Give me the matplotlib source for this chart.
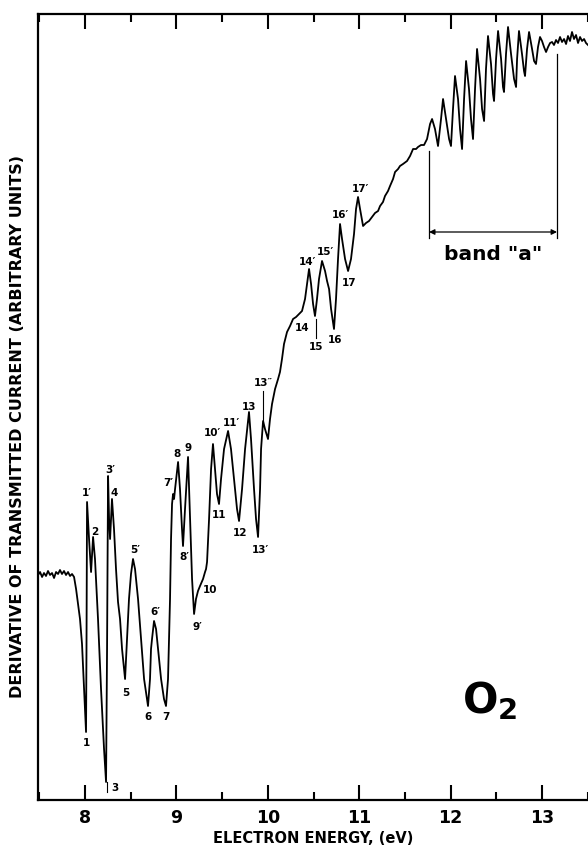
import matplotlib
matplotlib.use('Agg')
import matplotlib.pyplot as plt
from matplotlib.ticker import MultipleLocator

energy = [7.486, 7.508, 7.530, 7.551, 7.573, 7.595, 7.617, 7.639, 7.661, 7.683,
          7.705, 7.726, 7.748, 7.770, 7.792, 7.814, 7.836, 7.858, 7.880, 7.902,
          7.923, 7.945, 7.967, 7.989, 8.011, 8.016, 8.022, 8.044, 8.066, 8.088,
          8.109, 8.142, 8.175, 8.208, 8.230, 8.241, 8.252, 8.263, 8.274, 8.295,
          8.317, 8.339, 8.361, 8.383, 8.405, 8.438, 8.460, 8.481, 8.503, 8.525,
          8.547, 8.580, 8.613, 8.646, 8.689, 8.711, 8.722, 8.733, 8.755, 8.777,
          8.799, 8.832, 8.864, 8.886, 8.908, 8.930, 8.941, 8.952, 8.963, 8.974,
          8.985, 9.018, 9.039, 9.061, 9.072, 9.094, 9.127, 9.149, 9.171, 9.193,
          9.214, 9.236, 9.258, 9.291, 9.313, 9.324, 9.335, 9.357, 9.379, 9.400,
          9.422, 9.444, 9.466, 9.488, 9.521, 9.565, 9.597, 9.630, 9.663, 9.685,
          9.718, 9.751, 9.794, 9.816, 9.849, 9.871, 9.893, 9.915, 9.926, 9.948,
          9.969, 10.002, 10.024, 10.046, 10.079, 10.112, 10.133, 10.155, 10.177, 10.210,
          10.243, 10.276, 10.309, 10.341, 10.374, 10.407, 10.429, 10.451, 10.473, 10.495,
          10.516, 10.538, 10.560, 10.593, 10.626, 10.648, 10.670, 10.692, 10.724, 10.746,
          10.768, 10.790, 10.812, 10.845, 10.878, 10.910, 10.943, 10.965, 10.987, 11.009,
          11.042, 11.074, 11.107, 11.140, 11.173, 11.206, 11.228, 11.260, 11.282, 11.315,
          11.337, 11.370, 11.392, 11.425, 11.446, 11.479, 11.523, 11.556, 11.589, 11.622,
          11.643, 11.676, 11.709, 11.742, 11.775, 11.797, 11.829, 11.862, 11.895, 11.917,
          11.950, 11.983, 12.004, 12.026, 12.048, 12.081, 12.103, 12.125, 12.147, 12.169,
          12.201, 12.223, 12.245, 12.267, 12.289, 12.322, 12.344, 12.366, 12.387, 12.409,
          12.442, 12.464, 12.475, 12.497, 12.519, 12.552, 12.573, 12.584, 12.606, 12.628,
          12.661, 12.694, 12.716, 12.727, 12.748, 12.781, 12.803, 12.814, 12.836, 12.858,
          12.891, 12.913, 12.934, 12.956, 12.978, 13.000, 13.022, 13.044, 13.066, 13.088,
          13.110, 13.131, 13.153, 13.175, 13.197, 13.219, 13.241, 13.263, 13.284, 13.306,
          13.328, 13.350, 13.372, 13.394, 13.416, 13.438, 13.460, 13.481, 13.503]

signal = [22.5, 22.8, 22.3, 22.7, 22.4, 22.9, 22.5, 22.7, 22.2, 22.8,
          22.6, 23.0, 22.6, 22.9, 22.5, 22.8, 22.4, 22.6, 22.3, 21.1,
          19.6, 18.1, 15.6, 11.1, 6.8, 15.1, 29.8, 26.1, 22.8, 26.3,
          24.1, 18.1, 11.1, 5.1, 1.8, 15.1, 32.4, 28.1, 26.1, 30.1,
          27.1, 23.1, 19.8, 18.1, 15.1, 12.1, 16.1, 20.1, 22.6, 24.1,
          23.1, 20.1, 16.1, 12.1, 9.4, 12.1, 15.1, 16.1, 17.9, 17.1,
          15.1, 12.1, 10.1, 9.4, 12.1, 20.1, 26.1, 29.6, 30.6, 30.1,
          31.1, 33.8, 31.1, 27.1, 25.4, 29.1, 34.3, 28.1, 22.1, 18.6,
          20.1, 20.9, 21.4, 22.1, 22.8, 23.1, 23.8, 28.1, 33.1, 35.6,
          33.1, 30.6, 29.6, 32.1, 35.1, 36.9, 35.1, 32.1, 29.1, 27.9,
          31.1, 35.1, 38.8, 36.1, 31.1, 28.1, 26.3, 31.1, 35.1, 37.9,
          37.1, 36.1, 38.1, 39.6, 41.1, 42.1, 42.8, 44.1, 45.6, 46.8,
          47.4, 48.1, 48.3, 48.6, 48.9, 50.1, 51.6, 53.1, 51.6, 49.6,
          48.4, 50.1, 52.1, 53.9, 52.9, 51.9, 51.1, 49.1, 47.1, 50.1,
          54.1, 57.6, 56.1, 54.1, 52.9, 54.1, 56.6, 59.1, 60.3, 59.1,
          57.4, 57.7, 57.9, 58.3, 58.7, 58.9, 59.4, 59.8, 60.4, 60.9,
          61.4, 62.1, 62.8, 63.1, 63.4, 63.6, 63.9, 64.4, 65.1, 65.1,
          65.3, 65.5, 65.5, 66.1, 67.6, 68.1, 67.1, 65.4, 68.1, 70.1,
          68.1, 66.1, 65.4, 69.1, 72.4, 70.1, 67.1, 65.1, 70.1, 73.9,
          71.1, 68.1, 66.1, 71.1, 75.1, 72.1, 69.1, 67.9, 73.1, 76.4,
          73.6, 70.6, 69.9, 74.1, 76.9, 74.1, 71.3, 70.8, 74.6, 77.3,
          74.6, 72.1, 71.3, 74.1, 76.9, 74.6, 72.9, 72.4, 75.1, 76.8,
          75.1, 73.9, 73.6, 75.3, 76.3, 75.9, 75.3, 74.8, 75.3, 75.7,
          75.8, 75.5, 76.0, 75.7, 76.3, 75.8, 76.1, 75.6, 76.4, 75.9,
          76.8, 76.1, 76.5, 75.7, 76.3, 75.9, 76.1, 75.7, 75.5]

assert len(energy) == len(signal)

# peak / dip labels
peak_text = ["1\u2032", "2", "3\u2032", "4", "5\u2032", "5", "6", "6\u2032", "7", "7\u2032",
             "8", "8\u2032", "9", "9\u2032", "10", "10\u2032", "11", "11\u2032", "12", "13",
             "13\u2032", "13\u2033", "14", "14\u2032", "15", "15\u2032", "16", "16\u2032", "17", "17\u2032",
             "1", "3"]
peak_x = [8.022, 8.109, 8.274, 8.317, 8.547, 8.449, 8.689, 8.766, 8.886, 8.908,
          9.007, 9.083, 9.127, 9.225, 9.368, 9.390, 9.466, 9.597, 9.696, 9.794,
          9.915, 9.948, 10.374, 10.429, 10.527, 10.626, 10.735, 10.790, 10.889, 11.009,
          8.011, 8.328]
peak_y = [30.8, 26.9, 33.1, 30.8, 25.1, 10.8, 8.4, 18.9, 8.4, 31.8,
          34.7, 24.4, 35.3, 17.4, 21.1, 36.8, 28.6, 37.8, 26.8, 39.4,
          25.1, 41.8, 47.3, 53.9, 45.4, 54.9, 46.1, 58.6, 51.8, 61.2,
          5.8, 1.3]

band_a = [11.764, 13.164]

fig = plt.figure(figsize=(5.88, 8.54), dpi=100)
ax = fig.add_axes([37.5/588, 1 - 801/854, 1 - 37.5/588, (801 - 15)/854])

ax.plot(energy, signal, color='black', lw=1.3, solid_joinstyle='round')

for t, x, y in zip(peak_text, peak_x, peak_y):
    ax.text(x, y, t, fontsize=7.5, fontweight='bold', ha='center', va='center')

# leader lines
ax.plot([10.527, 10.527], [48.1, 46.2], color='black', lw=0.8)
ax.plot([9.948, 9.948], [40.9, 37.8], color='black', lw=0.8)
ax.plot([8.241, 8.241], [1.8, 0.8], color='black', lw=0.8)

# band "a" bracket
ax.plot([band_a[0], band_a[0]], [64.9, 56.2], color='black', lw=0.9)
ax.plot([band_a[1], band_a[1]], [74.6, 56.2], color='black', lw=0.9)
ax.annotate('', xy=(band_a[0], 56.8), xytext=(band_a[1], 56.8),
            arrowprops=dict(arrowstyle='<|-|>', color='black', lw=0.9,
                            mutation_scale=8, shrinkA=0, shrinkB=0))
ax.text(sum(band_a) / 2, 54.6, 'band "a"', fontsize=14.5, fontweight='bold',
        ha='center', va='center')

ax.text(12.12, 8.8, r'$\mathbf{O_2}$', fontsize=30, ha='left', va='baseline')

ax.set_xlim(7.48, 13.503)
ax.set_ylim(0, 78.6)
ax.xaxis.set_major_locator(MultipleLocator(1))
ax.xaxis.set_minor_locator(MultipleLocator(0.5))
ax.set_yticks([])
ax.tick_params(axis='x', which='both', direction='in', top=True, bottom=True,
               width=1.5, labelsize=12.5, pad=6)
ax.tick_params(axis='x', which='major', length=11)
ax.tick_params(axis='x', which='minor', length=5.5)
for lab in ax.get_xticklabels():
    lab.set_fontweight('bold')
for s in ['left', 'bottom', 'top']:
    ax.spines[s].set_linewidth(1.6)
ax.spines['right'].set_visible(False)

ax.set_xlabel('ELECTRON ENERGY, (eV)', fontsize=10.5, fontweight='bold', labelpad=3)
fig.text(0.03, 0.5, 'DERIVATIVE OF TRANSMITTED CURRENT (ARBITRARY UNITS)',
         rotation=90, fontsize=11.5, fontweight='bold', ha='center', va='center')

fig.savefig('out.png', dpi=100)
